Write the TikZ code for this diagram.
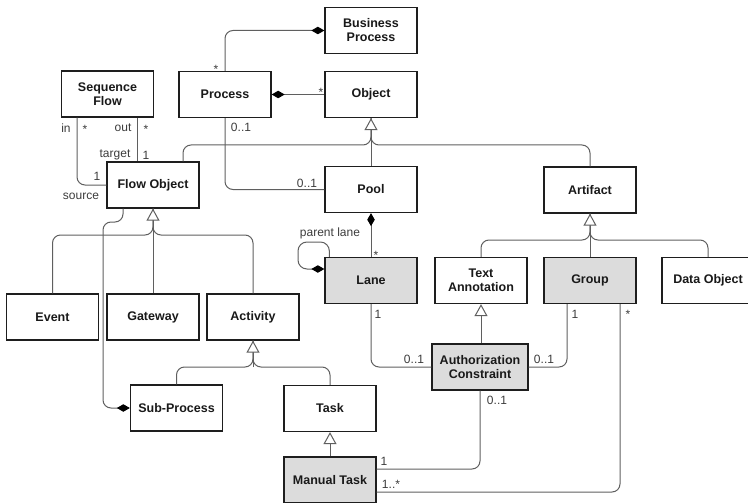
\documentclass[tikz,border=0pt]{standalone}
\usepackage{fontspec}
\setmainfont{Liberation Sans}
\usetikzlibrary{arrows.meta}
\definecolor{boxline}{HTML}{1E1E1E}
\definecolor{linecol}{HTML}{5F5F5F}
\definecolor{boxfill}{HTML}{DCDCDC}
\definecolor{lblcol}{HTML}{3C3C3C}
\begin{document}
\begin{tikzpicture}[x=1pt,y=-1pt,
  cls/.style={draw=boxline, line width=1.3pt, fill=white, minimum width=92pt,
    minimum height=46pt, inner sep=2pt, align=center,
    font=\fontsize{12.5}{14}\selectfont\bfseries, text=black!90},
  shaded/.style={cls, fill=boxfill},
  conn/.style={draw=linecol, line width=1pt, rounded corners=8pt},
  lbl/.style={font=\fontsize{12}{13}\selectfont, text=lblcol, inner sep=0pt},
  gen/.style={conn, -{Triangle[length=12pt,width=13pt,fill=white,line width=1pt]}},
  comp/.style={-{Diamond[length=13pt,width=7.5pt,fill=black,color=black]}},
  compstart/.style={{Diamond[length=13pt,width=7.5pt,fill=black,color=black]}-}
]
\useasboundingbox (0,0) rectangle (748,503);

% classes
\node[cls] (seq) at (107.5,94) {Sequence\\Flow};
\node[cls] (proc) at (225,94.5) {Process};
\node[cls] (bp) at (371,30.5) {Business\\Process};
\node[cls] (obj) at (371,94.5) {Object};
\node[cls] (fo) at (153,185) {Flow Object};
\node[cls] (pool) at (371,189.5) {Pool};
\node[cls] (art) at (590,190) {Artifact};
\node[shaded] (lane) at (371,280.5) {Lane};
\node[cls] (ta) at (481,280.5) {Text\\Annotation};
\node[shaded] (grp) at (590,280.5) {Group};
\node[cls] (dobj) at (708,280.5) {Data Object};
\node[cls] (event) at (52.5,317) {Event};
\node[cls] (gw) at (153,317) {Gateway};
\node[cls] (act) at (253,317) {Activity};
\node[shaded, minimum width=96pt] (ac) at (480,367) {Authorization\\Constraint};
\node[cls] (sub) at (176.5,408) {Sub-Process};
\node[cls] (task) at (330,408.5) {Task};
\node[shaded] (mt) at (330,480) {Manual Task};

% junction points of the inheritance trees
\coordinate (objj) at (371,145);
\coordinate (foj) at (153,235);
\coordinate (actj) at (253,367);
\coordinate (artj) at (590,240);
\coordinate (spj) at (103,222);
\coordinate (loopc) at (298,242);

% compositions
\draw[conn, comp] (proc.north) |- (bp.west);
\draw[conn, compstart] (proc.east) -- (obj.west);
\draw[conn, compstart] (pool.south) -- (lane.north);
\draw[conn, comp] ([xshift=-30pt]fo.south) |- (spj) |- (sub.west);
\draw[conn, rounded corners=9pt, comp] ([xshift=5pt]lane.north west) |- (loopc) |- ([yshift=11.5pt]lane.west);

% associations
\draw[conn] ([xshift=-30.5pt]seq.south) |- (fo.west);
\draw[conn] ([xshift=29.5pt]seq.south) -- ([xshift=-16pt]fo.north);
\draw[conn] (proc.south) |- (pool.west);
\draw[conn] (lane.south) |- (ac.west);
\draw[conn] ([xshift=-23pt]grp.south) |- (ac.east);
\draw[conn] ([xshift=30pt]grp.south) |- ([yshift=-12pt]mt.east);
\draw[conn] (ac.south) |- ([yshift=11pt]mt.east);

% generalizations
\draw[conn] ([xshift=30pt]fo.north) |- (objj) -- (obj.south);
\draw[conn] (art.north) |- (objj) -- (obj.south);
\draw[gen] (pool.north) -- (obj.south);

\draw[conn] (event.north) |- (foj) -- (fo.south);
\draw[conn] (act.north) |- (foj) -- (fo.south);
\draw[gen] (gw.north) -- (fo.south);

\draw[conn] (sub.north) |- (actj) -- (act.south);
\draw[conn] (task.north) |- (actj) -- (act.south);
\draw[gen] (actj) -- (act.south);

\draw[conn] (ta.north) |- (artj) -- (art.south);
\draw[conn] (dobj.north) |- (artj) -- (art.south);
\draw[gen] (grp.north) -- (art.south);

\draw[gen] (ac.north -| ta.south) -- (ta.south);
\draw[gen] (mt.north) -- (task.south);

% multiplicities and role names
\node[lbl] (m1) at (216,69) {*};
\node[lbl] (m2) at (321,92) {*};
\node[lbl] (m3) at (66,128) {in};
\node[lbl] (m4) at (85,129) {*};
\node[lbl] (m5) at (123,128) {out};
\node[lbl] (m6) at (146,129) {*};
\node[lbl] (m7) at (115,155) {target};
\node[lbl] (m8) at (146,155) {1};
\node[lbl] (m9) at (97,176) {1};
\node[lbl] (m10) at (81,196) {source};
\node[lbl] (m11) at (241,127) {0..1};
\node[lbl] (m12) at (307,183) {0..1};
\node[lbl] (m13) at (330,233) {parent lane};
\node[lbl] (m14) at (376,255) {*};
\node[lbl] (m15) at (378,314) {1};
\node[lbl] (m16) at (414,359) {0..1};
\node[lbl] (m17) at (544,359) {0..1};
\node[lbl] (m18) at (575,314) {1};
\node[lbl] (m19) at (628,314) {*};
\node[lbl] (m20) at (497,400) {0..1};
\node[lbl] (m21) at (384,461) {1};
\node[lbl] (m22) at (391,484) {1..*};
\end{tikzpicture}
\end{document}
